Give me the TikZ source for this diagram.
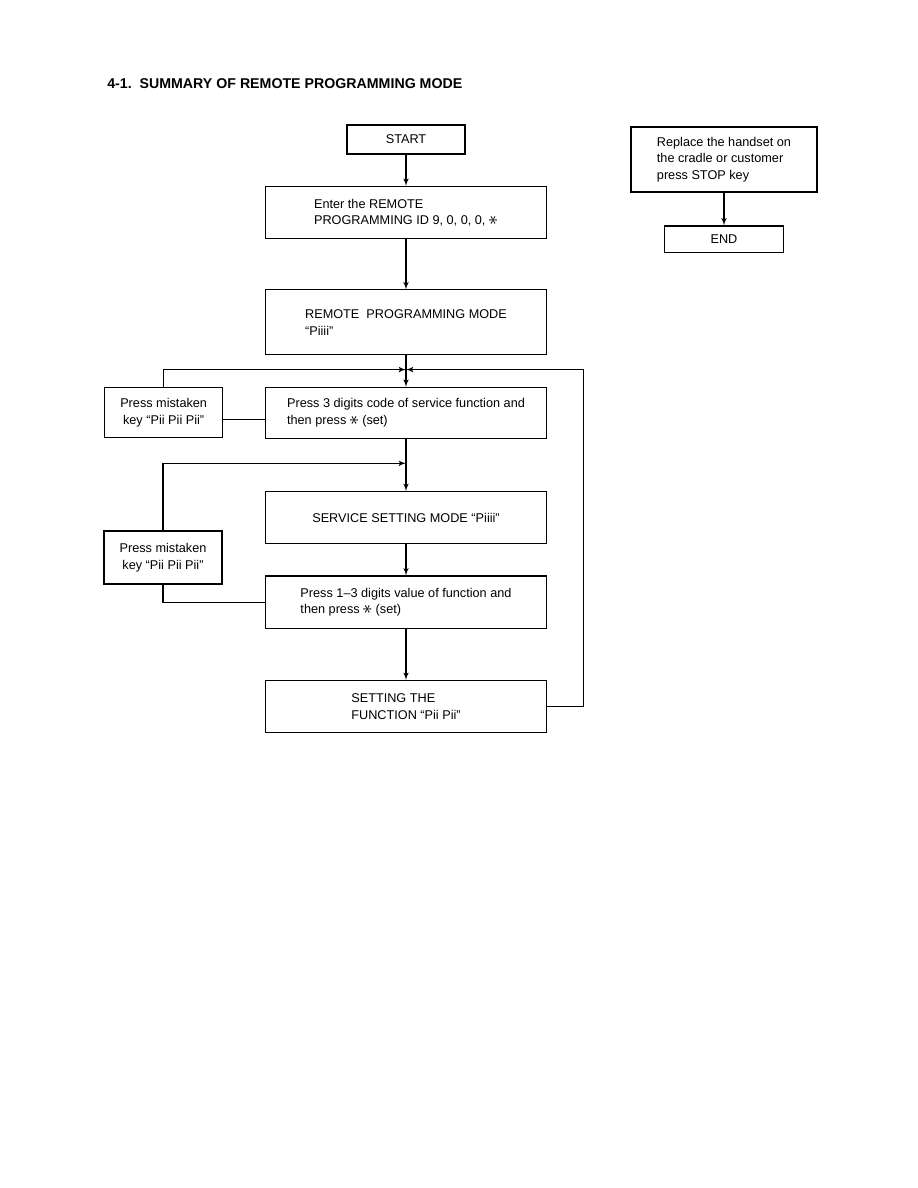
\documentclass[tikz,border=0pt]{standalone}
\usepackage{fontspec}
\setmainfont{Liberation Sans}
\usetikzlibrary{arrows, positioning, calc}
\newcommand{\keystar}{\raisebox{-0.15ex}{\rotatebox{90}{\scalebox{1.6}{$\ast$}}}}

\begin{document}
\begin{tikzpicture}[
    x=0.6695pt, y=-0.6695pt,
    font=\fontsize{8.5}{11}\selectfont,
    block/.style={rectangle, draw, line width=0.75pt, align=left, minimum width=188pt, minimum height=35pt, inner sep=2pt},
    small/.style={rectangle, draw, line width=0.75pt, align=center, minimum width=79pt, inner sep=2pt},
    line/.style={draw, line width=0.7pt},
    arr/.style={draw, -latex', line width=0.7pt}
]
    \useasboundingbox (0,0) rectangle (918,1188);

    % Title
    \node [anchor=west, inner sep=0pt, font=\fontsize{9.5}{11}\selectfont\bfseries] (title) at (107,84) {4-1.\ \ SUMMARY OF REMOTE PROGRAMMING MODE};

    % Main column
    \node [small, minimum height=19.4pt] (start) at (406,139.5) {START};
    \node [block, below=21pt of start] (enter) {Enter the REMOTE\\PROGRAMMING ID 9, 0, 0, 0, \keystar};
    \node [block, minimum height=43.5pt, below=33.5pt of enter] (remote) {REMOTE\ \ PROGRAMMING MODE\\``Piiii''};
    \node [block, minimum height=34pt, below=21pt of remote] (press3) {Press 3 digits code of service function and\\then press \keystar{} (set)};
    \node [block, below=35pt of press3] (service) {SERVICE SETTING MODE ``Piiii''};
    \node [block, below=20.8pt of service] (press13) {Press 1--3 digits value of function and\\then press \keystar{} (set)};
    \node [block, below=34.2pt of press13] (setting) {SETTING THE\\FUNCTION ``Pii Pii''};

    % Mistaken key boxes
    \node [small, minimum height=33.5pt, left=28pt of press3] (mistake1) {Press mistaken\\key ``Pii Pii Pii''};
    \node [small, minimum height=35.5pt] (mistake2) at (163,557.5) {Press mistaken\\key ``Pii Pii Pii''};

    % End of programming
    \node [block, minimum width=124.5pt, minimum height=43.5pt] (replace) at (724,159.5) {Replace the handset on\\the cradle or customer\\press STOP key};
    \node [small, minimum width=80pt, minimum height=18pt, below=22pt of replace] (end) {END};

    % Junctions
    \coordinate (join1) at ($(remote.south)!0.45!(press3.north)$);
    \coordinate (join2) at ($(press3.south)!0.47!(service.north)$);

    % Connections
    \path [arr] (start) -- (enter);
    \path [arr] (enter) -- (remote);
    \path [arr] (remote) -- (press3);
    \path [arr] (press3) -- (service);
    \path [arr] (service) -- (press13);
    \path [arr] (press13) -- (setting);
    \path [arr] (replace) -- (end);

    % Loops back
    \path [arr] (mistake1.north) |- (join1);
    \path [arr] (setting.east) -- ++(37,0) |- (join1);
    \path [arr] (mistake2.north) |- (join2);
    \path [line] ([yshift=-4.5pt]mistake1.east) -- ([yshift=-4.5pt]mistake1.east -| press3.west);
    \path [line] (mistake2.south) |- (press13.west);

\end{tikzpicture}
\end{document}
